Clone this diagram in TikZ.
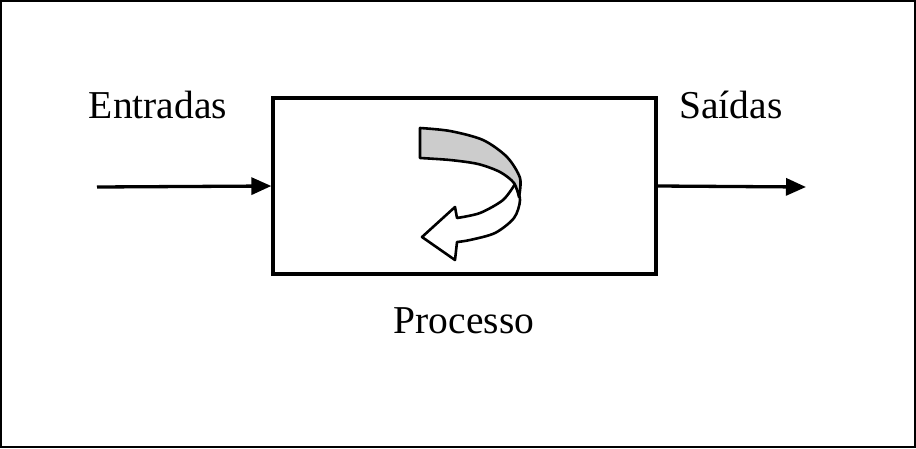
\documentclass[tikz,border=0pt]{standalone}
\usepackage{fontspec}
\setmainfont{Liberation Serif}
\usetikzlibrary{arrows.meta}
\begin{document}
\begin{tikzpicture}[x=1pt,y=-1pt,
  lbl/.style={font=\fontsize{39.5}{44}\selectfont, anchor=base, inner sep=0pt},
  conn/.style={line width=3.3pt, -{Triangle[length=20pt,width=17pt]}},
  procbox/.style={draw, line width=3.3pt, minimum width=383pt, minimum height=176pt, inner sep=0pt},
  curl/.style={draw, line width=2.6pt, line join=round}]
\useasboundingbox (0,0) rectangle (916,448);
\draw[line width=1.8pt] (1,1) rectangle (915,447);
\node[procbox] (proc) at (464.5,186) {};
\coordinate (in) at (97,187);
\coordinate (out) at (806,187);
\draw[conn] (in) -- (proc.west);
\draw[conn] (proc.east) -- (out);
\node[lbl] (entradas) at (158,118) {Entradas};
\node[lbl] (saidas) at (731,118) {Saídas};
\node[lbl] (processo) at (464,333) {Processo};
% curved arrow
\path[curl, fill=white] plot[smooth] coordinates {(515,184) (520,200) (514,218) (495,233) (470,240) (457,242)}
  -- (455,260) -- (422,237) -- (455,207)
  -- plot[smooth] coordinates {(457,218) (480,213) (503,200) (515,184)} -- cycle;
\path[curl, fill=black!20] plot[smooth] coordinates {(420,128) (450,131) (483,140) (507,157) (520,178) (519,197)}
  -- plot[smooth] coordinates {(519,197) (514,183) (500,172) (478,164) (450,160) (420,158)} -- cycle;
\end{tikzpicture}
\end{document}
